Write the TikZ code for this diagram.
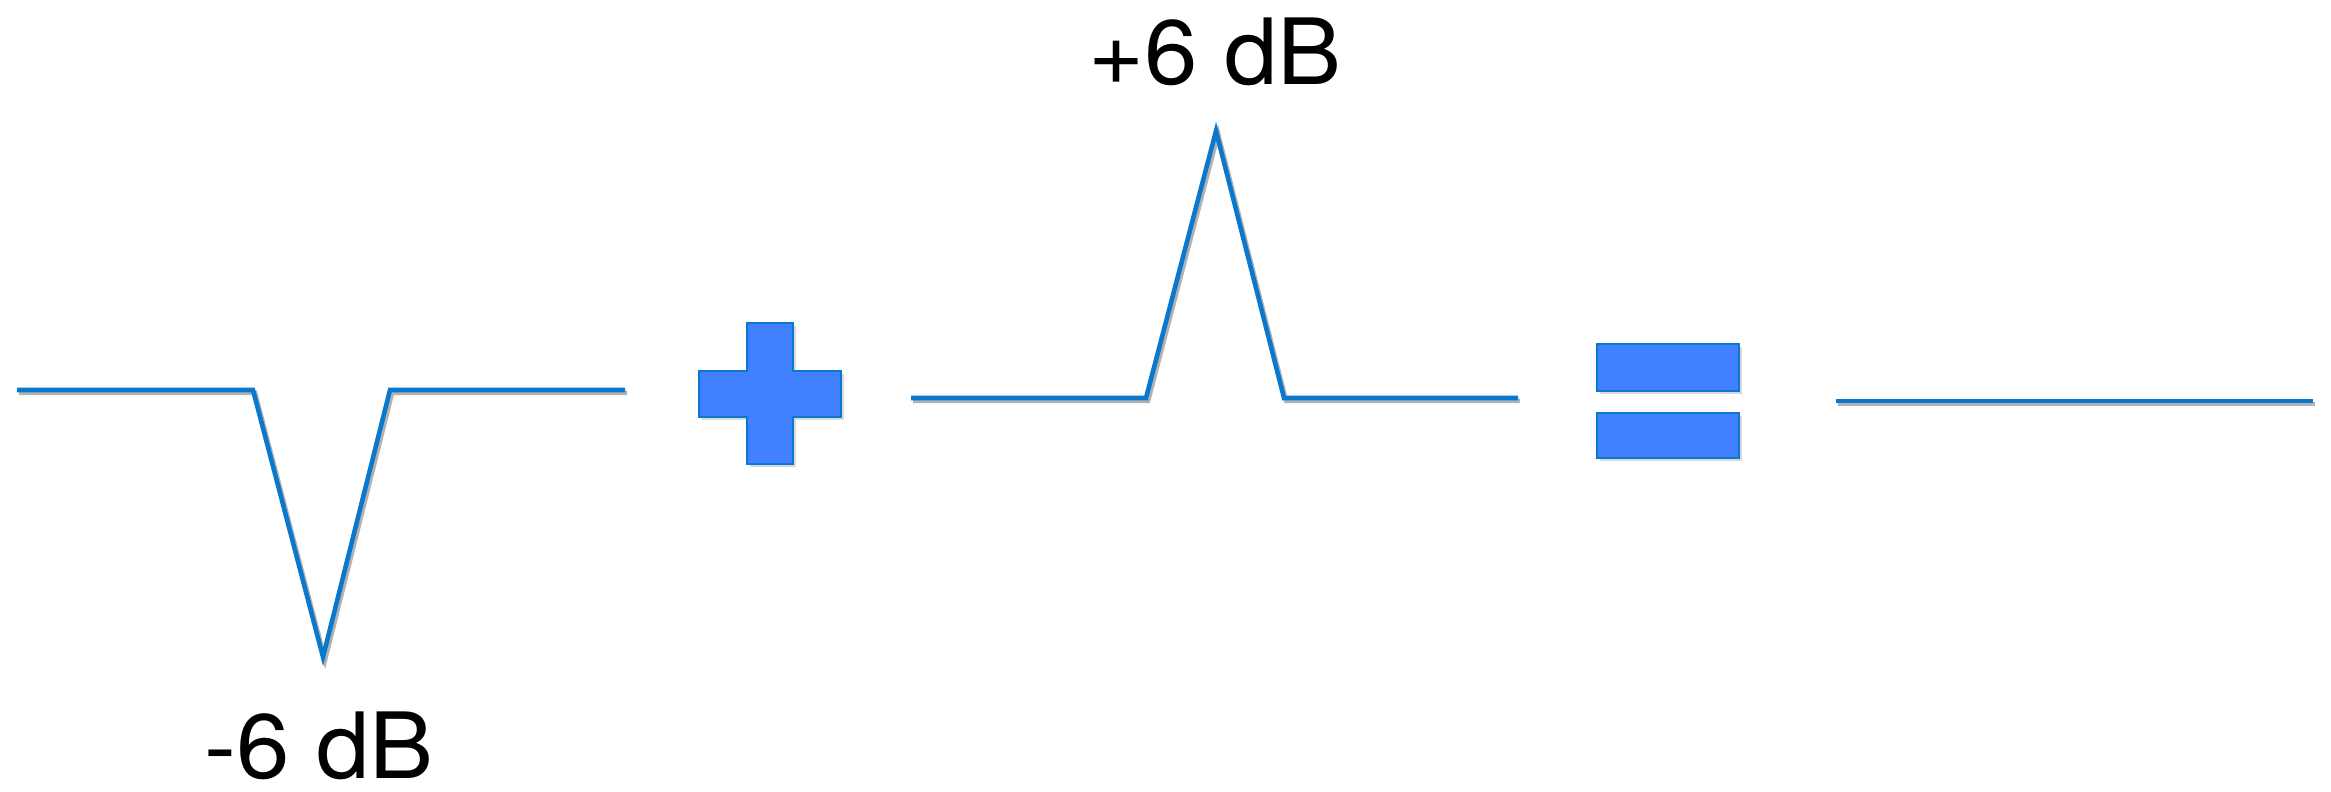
\documentclass[tikz,border=0pt]{standalone}
\usepackage{fontspec}
\setmainfont{TeX Gyre Heros}
\usetikzlibrary{shadows}
\definecolor{wave}{HTML}{0A78CC}
\definecolor{signfill}{HTML}{4181FF}
\tikzset{every picture/.style={line join=miter}}
\tikzset{waveline/.style={wave, line width=1.3pt,
    preaction={draw, black!30, line width=1.3pt, transform canvas={xshift=0.6pt,yshift=-0.8pt}}}}
\tikzset{signpart/.style={fill=signfill, draw=wave, line width=0.8pt,
    drop shadow={opacity=0.3, shadow xshift=0.8pt, shadow yshift=-0.8pt}}}
\tikzset{dblabel/.style={font=\fontsize{26}{30}\selectfont\addfontfeature{FakeStretch=1.05},
    anchor=base, inner sep=0pt}}

\begin{document}
\begin{tikzpicture}[x=0.01cm, y=-0.01cm]
	\useasboundingbox (0,0) rectangle (2331,791);
	% notch
	\coordinate (n0) at (17,390);
	\coordinate (n1) at (253,390);
	\coordinate (n2) at (323,657);
	\coordinate (n3) at (390,390);
	\coordinate (n4) at (625,390);
	\draw[waveline] (n0) -- (n1) -- (n2) -- (n3) -- (n4);
	\node[dblabel] (minus) at (319,778) {-6 dB};
	% plus sign
	\draw[signpart] (747,323) -- (793,323) -- (793,371) -- (841,371) -- (841,417)
		-- (793,417) -- (793,464) -- (747,464) -- (747,417) -- (699,417)
		-- (699,371) -- (747,371) -- cycle;
	% peak
	\coordinate (p0) at (911,398);
	\coordinate (p1) at (1146,398);
	\coordinate (p2) at (1216,131);
	\coordinate (p3) at (1284,398);
	\coordinate (p4) at (1518,398);
	\draw[waveline] (p0) -- (p1) -- (p2) -- (p3) -- (p4);
	\node[dblabel] (plus) at (1215,85) {+6 dB};
	% equals sign
	\draw[signpart] (1597,344) rectangle (1739,391);
	\draw[signpart] (1597,413) rectangle (1739,458);
	% flat result
	\coordinate (f0) at (1836,401);
	\coordinate (f1) at (2313,401);
	\draw[waveline] (f0) -- (f1);
\end{tikzpicture}
\end{document}
